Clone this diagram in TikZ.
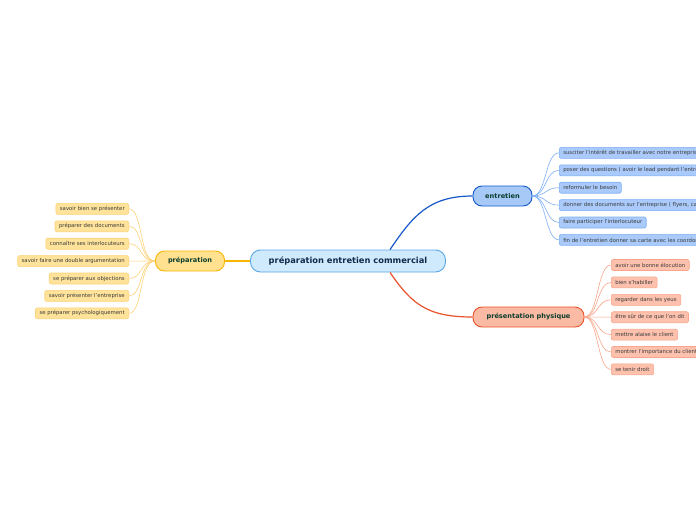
\documentclass[tikz,border=0pt]{standalone}
\usepackage{fontspec}
\setmainfont{DejaVu Sans}
\definecolor{rootfill}{HTML}{CFEAFC}
\definecolor{rootline}{HTML}{58A6E6}
\definecolor{roottext}{HTML}{102A4C}
\definecolor{preptone}{HTML}{F7B500}
\definecolor{prepfill}{HTML}{FFE18F}
\definecolor{prepleaf}{HTML}{FFE39A}
\definecolor{prepedge}{HTML}{FCD277}
\definecolor{enttone}{HTML}{1558C8}
\definecolor{entfill}{HTML}{A6C9F7}
\definecolor{entleaf}{HTML}{A9CAFA}
\definecolor{entedge}{HTML}{7EB0F4}
\definecolor{prestone}{HTML}{E9532B}
\definecolor{presfill}{HTML}{FBBAA4}
\definecolor{presleaf}{HTML}{FDC1AD}
\definecolor{presedge}{HTML}{F7A68B}
\definecolor{branchtext}{HTML}{0B3D2E}
\definecolor{leaftext}{HTML}{3A3A3A}
\tikzset{
  rootbox/.style={draw=rootline, fill=rootfill, line width=0.9pt, rounded corners=10pt,
    minimum height=22pt, minimum width=195pt, text=roottext,
    font=\fontsize{8.3}{10}\selectfont\bfseries},
  branchbox/.style={line width=0.9pt, rounded corners=9pt, minimum height=20pt,
    inner xsep=9pt, text=branchtext, font=\fontsize{6.6}{8}\selectfont\bfseries},
  leafbox/.style={line width=0.6pt, rounded corners=2pt, minimum height=11pt,
    inner xsep=4pt, inner ysep=1pt, text=leaftext, font=\fontsize{5.35}{6}\selectfont},
}
\begin{document}
\begin{tikzpicture}[x=1pt, y=-1pt]
                % Page frame
                \clip (0,0) rectangle (696,520);
                \fill[white] (0,0) rectangle (696,520);

                % Main topic and branches
                \node[rootbox] (root) at (348,261) {préparation entretien commercial};
                \node[branchbox, draw=preptone, fill=prepfill, minimum width=69pt] (prep) at (190,261) {préparation};
                \node[branchbox, draw=enttone, fill=entfill, minimum width=59pt] (ent) at (502.5,196) {entretien};
                \node[branchbox, draw=prestone, fill=presfill, minimum width=111pt] (pres) at (528.5,317) {présentation physique};

                \draw[preptone, line width=1.2pt] (root.west) -- (prep.east);
                \draw[enttone, line width=1.2pt] ([xshift=42pt]root.north) .. controls +(22,-32) and +(-45,0) .. (ent.west);
                \draw[prestone, line width=1.2pt] ([xshift=42pt]root.south) .. controls +(22,32) and +(-45,0) .. (pres.west);

                % Leaves of préparation
                \foreach \txt [count=\i] in {savoir bien se présenter, préparer des documents,
                    connaître ses interlocuteurs, savoir faire une double argumentation,
                    se préparer aux objections, savoir présenter l'entreprise,
                    se préparer psychologiquement} {
                  \node[leafbox, draw=prepedge, fill=prepleaf, anchor=east] (prep\i) at (129,191.5+17.4*\i) {\txt};
                  \draw[prepedge, line width=0.6pt] (prep.west) .. controls +(-16,0) and +(14,0) .. (prep\i.east);
                }

                % Leaves of entretien
                \foreach \txt [count=\i] in {susciter l'intérêt de travailler avec notre entreprise,
                    poser des questions ( avoir le lead pendant l'entretien ),
                    reformuler le besoin,
                    {donner des documents sur l'entreprise ( flyers, catalogues )},
                    faire participer l'interlocuteur,
                    fin de l'entretien donner sa carte avec les coordonnées} {
                  \node[leafbox, draw=entedge, fill=entleaf, anchor=west] (ent\i) at (559,135.5+17.4*\i) {\txt};
                  \draw[entedge, line width=0.6pt] (ent.east) .. controls +(14,0) and +(-14,0) .. (ent\i.west);
                }

                % Leaves of présentation physique
                \foreach \txt [count=\i] in {avoir une bonne élocution, bien s'habiller,
                    regarder dans les yeux, être sûr de ce que l'on dit,
                    mettre alaise le client, montrer l'importance du client,
                    se tenir droit} {
                  \node[leafbox, draw=presedge, fill=presleaf, anchor=west] (pres\i) at (611,247.6+17.4*\i) {\txt};
                  \draw[presedge, line width=0.6pt] (pres.east) .. controls +(14,0) and +(-14,0) .. (pres\i.west);
                }
\end{tikzpicture}
\end{document}
